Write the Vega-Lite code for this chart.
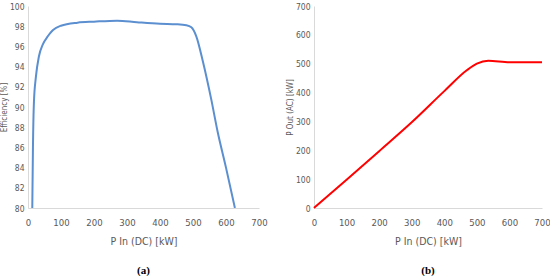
{
  "$schema": "https://vega.github.io/schema/vega-lite/v6.json",
  "padding": {"left": 0, "top": 2, "right": 0, "bottom": 0},
  "spacing": 18,
  "config": {
    "view": {"stroke": null},
    "axis": {
      "grid": false,
      "ticks": false,
      "labelFlush": false,
      "domainColor": "#d9d9d9",
      "domainWidth": 1,
      "labelColor": "#595959",
      "labelFont": "Liberation Sans Narrow, DejaVu Sans Condensed, sans-serif",
      "labelFontSize": 9.5,
      "labelPadding": 6,
      "titleColor": "#595959",
      "titleFont": "Liberation Sans Narrow, DejaVu Sans Condensed, sans-serif",
      "titleFontSize": 10.5,
      "titleFontWeight": "normal"
    }
  },
  "datasets": {
    "eff": [
      {"p": 13, "e": 80}, {"p": 15, "e": 86}, {"p": 18, "e": 90.5}, {"p": 24, "e": 93}, {"p": 33, "e": 95},
      {"p": 45, "e": 96.2}, {"p": 60, "e": 97}, {"p": 75, "e": 97.6}, {"p": 100, "e": 98.05},
      {"p": 150, "e": 98.35}, {"p": 200, "e": 98.45}, {"p": 270, "e": 98.55}, {"p": 330, "e": 98.4},
      {"p": 400, "e": 98.25}, {"p": 450, "e": 98.2}, {"p": 480, "e": 98.1}, {"p": 495, "e": 97.9},
      {"p": 510, "e": 97}, {"p": 530, "e": 94.5}, {"p": 555, "e": 90.8}, {"p": 575, "e": 87.5},
      {"p": 600, "e": 84}, {"p": 627, "e": 80}
    ],
    "pout": [
      {"p": 0, "o": 0}, {"p": 100, "o": 98}, {"p": 200, "o": 197}, {"p": 300, "o": 297},
      {"p": 400, "o": 405}, {"p": 470, "o": 478}, {"p": 500, "o": 500}, {"p": 535, "o": 510},
      {"p": 600, "o": 505}, {"p": 700, "o": 505}
    ]
  },
  "hconcat": [
    {
      "width": 231,
      "height": 202,
      "title": {"text": "(a)", "orient": "bottom", "offset": 18, "font": "Liberation Serif", "fontSize": 11, "fontWeight": "bold", "color": "#000000"},
      "data": {"name": "eff"},
      "mark": {"type": "line", "color": "#5b8fd0", "strokeWidth": 2, "interpolate": "monotone", "clip": true},
      "encoding": {
        "x": {"field": "p", "type": "quantitative", "title": "P In (DC) [kW]",
              "scale": {"domain": [0, 700], "nice": false}, "axis": {"values": [0,100,200,300,400,500,600,700], "labelPadding": 9, "titlePadding": 10}},
        "y": {"field": "e", "type": "quantitative", "title": "Efficiency [%]",
              "scale": {"domain": [80, 100], "nice": false, "zero": false},
              "axis": {"values": [80,82,84,86,88,90,92,94,96,98,100], "labelFontSize": 8.5, "labelPadding": 4, "titleFont": "DejaVu Sans Condensed", "titleFontSize": 8, "titlePadding": 1}}
      }
    },
    {
      "width": 228,
      "height": 202,
      "title": {"text": "(b)", "orient": "bottom", "offset": 18, "font": "Liberation Serif", "fontSize": 11, "fontWeight": "bold", "color": "#000000"},
      "data": {"name": "pout"},
      "mark": {"type": "line", "color": "#ff0000", "strokeWidth": 2, "interpolate": "monotone"},
      "encoding": {
        "x": {"field": "p", "type": "quantitative", "title": "P In (DC) [kW]",
              "scale": {"domain": [0, 700], "nice": false}, "axis": {"values": [0,100,200,300,400,500,600,700], "labelPadding": 9, "titlePadding": 10}},
        "y": {"field": "o", "type": "quantitative", "title": "P Out (AC) [kW]",
              "scale": {"domain": [0, 700], "nice": false},
              "axis": {"values": [0,100,200,300,400,500,600,700], "labelFontSize": 8.5, "labelPadding": 4, "titleFont": "DejaVu Sans Condensed", "titleFontSize": 8, "titlePadding": 1}}
      }
    }
  ]
}
